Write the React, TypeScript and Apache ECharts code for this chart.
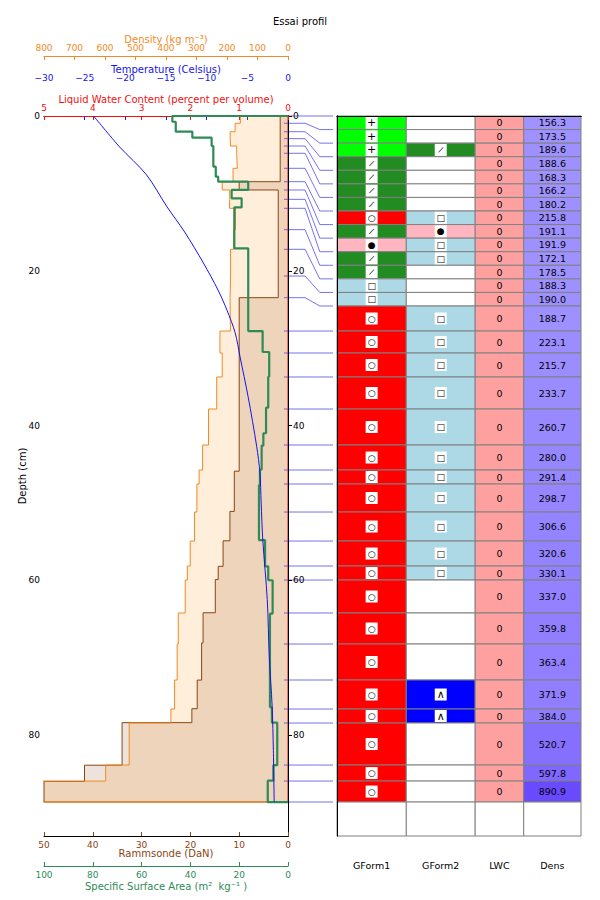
import React, { useEffect, useRef } from 'react';
import * as echarts from 'echarts';

const FONT = 'DejaVu Sans';

// ---------- DATA ----------
// Snow layer boundaries (depth from surface, cm), top to bottom
const layerDepths = [0, 0.94, 2.03, 2.93, 3.88, 4.82, 6.76, 8.49, 9.56, 10.77, 11.93, 14.69, 17.23, 20.68, 23.48,
  27.79, 30.63, 33.73, 37.87, 42.52, 45.75, 47.56, 51.18, 54.93, 58.16, 59.97, 64.23, 68.24, 72.89, 76.64, 78.45,
  83.88, 85.95, 88.66];

// Primary / secondary grain form per layer
const grainForm1 = ['PP', 'PP', 'PP', 'DF', 'DF', 'DF', 'DF', 'MF', 'DF', 'RG', 'DF', 'DF', 'FC', 'FC',
  'MF', 'MF', 'MF', 'MF', 'MF', 'MF', 'MF', 'MF', 'MF', 'MF', 'MF', 'MF', 'MF', 'MF', 'MF', 'MF', 'MF', 'MF', 'MF'];
const grainForm2 = ['', '', 'DF', '', '', '', '', 'FC', 'RG', 'FC', 'FC', '', '', '',
  'FC', 'FC', 'FC', 'FC', 'FC', 'FC', 'FC', 'FC', 'FC', 'FC', 'FC', '', '', '', 'DH', 'DH', '', '', ''];

// Liquid water content per layer (% vol)
const lwcValues = [0, 0, 0, 0, 0, 0, 0, 0, 0, 0, 0, 0, 0, 0, 0, 0, 0, 0, 0, 0, 0, 0, 0, 0, 0, 0, 0, 0, 0, 0, 0, 0, 0];

// Density per layer (kg m-3)
const densityValues = [156.3, 173.5, 189.6, 188.6, 168.3, 166.2, 180.2, 215.8, 191.1, 191.9, 172.1, 178.5, 188.3, 190.0,
  188.7, 223.1, 215.7, 233.7, 260.7, 280.0, 291.4, 298.7, 306.6, 320.6, 330.1, 337.0, 359.8, 363.4, 371.9, 384.0,
  520.7, 597.8, 890.9];

// Temperature profile
const tempDepths = [0, 4, 7.6, 11.7, 15, 19, 22.5, 25.1, 28, 31.1, 36.3, 42.7, 46.1, 50, 54.8, 62.5, 69.9, 76.3, 82, 88.66];
const tempValues = [-23.9, -20.7, -17.4, -14.9, -12.7, -10.4, -8.6, -7.5, -6.5, -5.9, -4.9, -3.85, -3.45, -3.3, -3.1,
  -2.55, -2.3, -1.95, -1.8, -1.7];

// Specific surface area step profile (m2 kg-1)
const ssaDepths = [0, 0.74, 2.03, 2.8, 3.88, 6.55, 7.84, 8.49, 9.56, 10.64, 11.8, 17.1, 27.8, 30.5, 33.7, 37.7, 41.0,
  42.6, 45.7, 47.7, 54.8, 58.2, 60.0, 64.3, 76.4, 78.4, 83.9, 85.9, 88.66];
const ssaValues = [47.4, 46.0, 39.2, 31.3, 30.6, 29.6, 28.6, 16.3, 23.1, 19.0, 22.0, 16.3, 10.4, 7.7, 8.1, 9.0, 10.1,
  10.8, 11.5, 11.9, 9.4, 8.1, 6.3, 7.4, 6.6, 4.4, 6.0, 8.3];

// Rammsonde step profile (DaN)
const rammDepths = [0, 8.49, 9.56, 23.48, 45.9, 51.1, 54.9, 58.2, 59.9, 64.2, 68.1, 72.9, 76.6, 78.4, 83.9, 86.0, 88.66];
const rammValues = [1.6, 10.0, 2.0, 10.0, 11.0, 11.9, 13.3, 14.3, 14.9, 17.4, 17.7, 18.6, 19.7, 34.0, 41.7, 50.0];

const tableColumns = ['GForm1', 'GForm2', 'LWC', 'Dens'];

// ---------- LAYOUT / STYLE ----------
const DEPTH_MAX = 93.05;
const MIN_ROW = 1.754; // minimum table row height in depth units
const COL_EDGES = [0, 69.4, 138.4, 187, 244.4];
const BEND1 = 0.43;
const BEND2 = 0.73;

const C_DENS = '#F08A24';
const C_TEMP = '#1515E8';
const C_LWC = '#EE1111';
const C_RAMM = '#8B4513';
const C_SSA = '#2E8B57';
const LWC_CELL = '#FFA0A0';

const grainStyles: Record<string, { color: string; symbol: string; size: number; rot: number }> = {
  PP: { color: '#00FF00', symbol: '+', size: 11, rot: 0 },
  DF: { color: '#228B22', symbol: '/', size: 8, rot: -0.45 },
  RG: { color: '#FFB6C1', symbol: '●', size: 9, rot: 0 },
  FC: { color: '#ADD8E6', symbol: '□', size: 9, rot: 0 },
  DH: { color: '#0000FF', symbol: '∧', size: 11, rot: 0 },
  MF: { color: '#FF0000', symbol: '○', size: 9, rot: 0 },
};

const densityColor = (d: number) =>
  `rgb(${Math.round(172 - 0.075 * d)}, ${Math.round(163 - 0.1 * d)}, 255)`;

const minus = (v: number) => (v < 0 ? '\u2212' + Math.abs(v) : String(v));

function stepPoints(depths: number[], values: number[]) {
  const pts: number[][] = [[0, depths[0]]];
  values.forEach((v, i) => {
    pts.push([v, depths[i]], [v, depths[i + 1]]);
  });
  pts.push([0, depths[depths.length - 1]]);
  return pts;
}

function stepLayers(depths: number[], values: number[]) {
  return values.map((v, i) => [v, depths[i], depths[i + 1]]);
}

const nRows = densityValues.length;
const tableEdges: number[] = [0];
for (let i = 0; i < nRows; i++) {
  tableEdges.push(Math.max(tableEdges[i] + MIN_ROW, layerDepths[i + 1]));
}
const connectorData = layerDepths.map((d, i) => [d, tableEdges[i]]);
const tableEdgesAll = [...tableEdges, DEPTH_MAX];

const stepFill = (color: string) => (params: any, api: any) => {
  const v = api.value(0);
  const top = api.value(1);
  const bot = api.value(2);
  const a = api.coord([0, top]);
  const b = api.coord([v, bot]);
  const cs = params.coordSys;
  let x1 = Math.min(a[0], b[0]);
  let x2 = Math.max(a[0], b[0]);
  x1 = Math.max(x1, cs.x);
  x2 = Math.min(x2, cs.x + cs.width);
  return {
    type: 'rect',
    shape: { x: x1, y: a[1], width: Math.max(0, x2 - x1), height: b[1] - a[1] },
    style: { fill: color },
  };
};

const topAxisBase = (color: string) => ({
  gridIndex: 0,
  type: 'value',
  position: 'top',
  splitLine: { show: false },
  axisLine: { show: true, lineStyle: { color, width: 1 } },
  axisTick: { show: true, inside: true, length: 4, lineStyle: { color } },
  axisLabel: { color, fontSize: 9, margin: 4, fontFamily: FONT },
  nameLocation: 'middle',
  nameMoveOverlap: false,
  nameTextStyle: { color, fontSize: 10, fontFamily: FONT },
});

export default function App() {
  const ref = useRef<HTMLDivElement>(null);

  useEffect(() => {
    if (!ref.current) return;
    const chart = echarts.init(ref.current, null, { renderer: 'svg' });

    const tableData: number[][] = [];
    for (let r = 0; r <= nRows; r++) for (let c = 0; c < 4; c++) tableData.push([c, r]);

    const option: any = {
      animation: false,
      backgroundColor: '#fff',
      textStyle: { fontFamily: FONT },
      title: {
        text: 'Essai profil',
        left: 'center',
        top: 16,
        padding: 0,
        textStyle: { fontSize: 10, fontWeight: 'normal', color: '#000', fontFamily: FONT },
      },
      grid: [
        { left: 44, top: 116, width: 244, height: 720, containLabel: false, outerBoundsMode: 'none' },
        { left: 284, top: 116, width: 49, height: 720, containLabel: false, outerBoundsMode: 'none' },
        { left: 337, top: 116, width: 244, height: 720, containLabel: false, outerBoundsMode: 'none' },
      ],
      xAxis: [
        {
          ...topAxisBase(C_LWC), min: 0, max: 5, interval: 1, inverse: true, offset: 0, z: 3,
          name: 'Liquid Water Content (percent per volume)', nameGap: 12,
        },
        {
          ...topAxisBase(C_TEMP), min: -30, max: 0, interval: 5, offset: 30,
          axisLabel: { color: C_TEMP, fontSize: 9, margin: 4, fontFamily: FONT, formatter: minus },
          name: 'Temperature (Celsius)', nameGap: 12,
        },
        {
          ...topAxisBase(C_DENS), min: 0, max: 800, interval: 100, inverse: true, offset: 60,
          name: 'Density (kg m⁻³)', nameGap: 12,
        },
        {
          ...topAxisBase(C_RAMM), position: 'bottom', min: 0, max: 50, interval: 10, inverse: true, offset: 0, z: 3,
          axisLine: { show: true, lineStyle: { color: '#000', width: 1 } },
          name: 'Rammsonde (DaN)', nameGap: 12,
        },
        {
          ...topAxisBase(C_SSA), position: 'bottom', min: 0, max: 100, interval: 20, inverse: true, offset: 30,
          name: 'Specific Surface Area (m²  kg⁻¹ )', nameGap: 15,
        },
        { gridIndex: 1, type: 'value', min: 0, max: 1, show: false },
        {
          gridIndex: 2, type: 'value', min: 0, max: COL_EDGES[4], position: 'bottom', z: 5,
          splitLine: { show: false }, axisTick: { show: false }, axisLabel: { show: false },
          axisLine: { show: true, lineStyle: { color: '#000', width: 1 } },
        },
        {
          gridIndex: 2, type: 'value', min: 0, max: COL_EDGES[4], position: 'top', z: 5,
          splitLine: { show: false }, axisTick: { show: false }, axisLabel: { show: false },
          axisLine: { show: true, lineStyle: { color: '#000', width: 1 } },
        },
      ],
      yAxis: [
        {
          gridIndex: 0, type: 'value', min: 0, max: DEPTH_MAX, interval: 20, inverse: true, position: 'left', z: 3,
          splitLine: { show: false },
          axisLine: { show: true, lineStyle: { color: '#000', width: 1 } },
          axisTick: { show: true, inside: true, length: 4, lineStyle: { color: '#000' } },
          axisLabel: { color: '#000', fontSize: 9, margin: 4, fontFamily: FONT, showMaxLabel: false },
          name: 'Depth (cm)', nameLocation: 'middle', nameGap: 17, nameRotate: 90, nameMoveOverlap: false,
          nameTextStyle: { color: '#000', fontSize: 10, fontFamily: FONT },
        },
        {
          gridIndex: 0, type: 'value', min: 0, max: DEPTH_MAX, interval: 20, inverse: true, position: 'right', z: 3,
          splitLine: { show: false },
          axisLine: { show: true, lineStyle: { color: '#000', width: 1 } },
          axisTick: { show: false },
          axisLabel: { color: '#000', fontSize: 9, margin: 5, fontFamily: FONT, showMaxLabel: false },
        },
        { gridIndex: 1, type: 'value', min: 0, max: DEPTH_MAX, inverse: true, show: false },
        {
          gridIndex: 2, type: 'value', min: 0, max: DEPTH_MAX, inverse: true, position: 'left', z: 5,
          splitLine: { show: false }, axisTick: { show: false }, axisLabel: { show: false },
          axisLine: { show: true, lineStyle: { color: '#000', width: 1 } },
        },
        {
          gridIndex: 2, type: 'value', min: 0, max: DEPTH_MAX, inverse: true, position: 'right', z: 5,
          splitLine: { show: false }, axisTick: { show: false }, axisLabel: { show: false },
          axisLine: { show: true, lineStyle: { color: '#000', width: 1 } },
        },
      ],
      series: [
        {
          type: 'custom', name: 'densFill', xAxisIndex: 2, yAxisIndex: 0, z: 1, clip: false,
          data: stepLayers(layerDepths, densityValues),
          renderItem: stepFill('rgba(255,140,0,0.15)'),
        },
        {
          type: 'custom', name: 'rammFill', xAxisIndex: 3, yAxisIndex: 0, z: 1, clip: false,
          data: stepLayers(rammDepths, rammValues),
          renderItem: stepFill('rgba(139,69,19,0.15)'),
        },
        {
          type: 'line', name: 'Rammsonde', xAxisIndex: 3, yAxisIndex: 0, z: 2,
          data: stepPoints(rammDepths, rammValues), showSymbol: false, symbol: 'none',
          lineStyle: { color: C_RAMM, width: 1 },
        },
        {
          type: 'line', name: 'Density', xAxisIndex: 2, yAxisIndex: 0, z: 2,
          data: stepPoints(layerDepths, densityValues), showSymbol: false, symbol: 'none',
          lineStyle: { color: C_DENS, width: 1 },
        },
        {
          type: 'line', name: 'LWC', xAxisIndex: 0, yAxisIndex: 0, z: 2,
          data: stepPoints(layerDepths, lwcValues), showSymbol: false, symbol: 'none',
          lineStyle: { color: C_LWC, width: 1 },
        },
        {
          type: 'line', name: 'SSA', xAxisIndex: 4, yAxisIndex: 0, z: 4,
          data: stepPoints(ssaDepths, ssaValues), showSymbol: false, symbol: 'none',
          lineStyle: { color: C_SSA, width: 2.2 },
        },
        {
          type: 'line', name: 'Temperature', xAxisIndex: 1, yAxisIndex: 0, z: 4,
          data: tempValues.map((t, i) => [t, tempDepths[i]]), showSymbol: false, symbol: 'none', smooth: 0.3,
          lineStyle: { color: C_TEMP, width: 1 },
        },
        {
          type: 'custom', name: 'connectors', xAxisIndex: 5, yAxisIndex: 2, z: 2, clip: false,
          data: connectorData,
          renderItem: (params: any, api: any) => {
            const a = api.value(0);
            const t = api.value(1);
            const pts = [api.coord([0, a]), api.coord([BEND1, a]), api.coord([BEND2, t]), api.coord([1, t])];
            return {
              type: 'polyline',
              shape: { points: pts },
              style: { stroke: 'rgba(40,40,230,0.65)', lineWidth: 1, fill: 'none' },
            };
          },
        },
        {
          type: 'custom', name: 'table', xAxisIndex: 6, yAxisIndex: 3, z: 2, clip: false,
          data: tableData,
          renderItem: (params: any, api: any) => {
            const c = api.value(0);
            const r = api.value(1);
            const p0 = api.coord([COL_EDGES[c], tableEdgesAll[r]]);
            const p1 = api.coord([COL_EDGES[c + 1], tableEdgesAll[r + 1]]);
            const x = p0[0];
            const y = p0[1];
            const w = p1[0] - p0[0];
            const h = p1[1] - p0[1];
            const cx = x + w / 2;
            const cy = y + h / 2;
            let fill = '#fff';
            let label: string | null = null;
            let sym: { color: string; symbol: string; size: number; rot: number } | null = null;
            if (r < nRows) {
              if (c < 2) {
                const code = (c === 0 ? grainForm1 : grainForm2)[r];
                if (code) {
                  sym = grainStyles[code];
                  fill = sym.color;
                }
              } else if (c === 2) {
                fill = LWC_CELL;
                label = String(lwcValues[r]);
              } else {
                fill = densityColor(densityValues[r]);
                label = densityValues[r].toFixed(1);
              }
            }
            const children: any[] = [
              { type: 'rect', shape: { x, y, width: w, height: h }, style: { fill, stroke: '#808080', lineWidth: 1 } },
            ];
            if (sym) {
              const bh = Math.min(12, h - 1.5);
              children.push({
                type: 'rect', shape: { x: cx - 6, y: cy - bh / 2, width: 12, height: bh }, style: { fill: '#fff' },
              });
              children.push({
                type: 'text',
                x: cx,
                y: cy,
                rotation: sym.rot,
                style: {
                  text: sym.symbol, x: 0, y: 0, align: 'center', verticalAlign: 'middle',
                  fontSize: sym.size, fontFamily: FONT, fill: '#000',
                },
              });
            }
            if (label !== null) {
              children.push({
                type: 'text',
                style: {
                  text: label, x: cx, y: cy, align: 'center', verticalAlign: 'middle',
                  fontSize: 9.5, fontFamily: FONT, fill: '#000',
                },
              });
            }
            return { type: 'group', children };
          },
        },
        {
          type: 'custom', name: 'tableHeader', xAxisIndex: 6, yAxisIndex: 3, z: 2, clip: false,
          data: tableColumns.map((_, i) => [i, 0]),
          renderItem: (params: any, api: any) => {
            const i = api.value(0);
            const cs = params.coordSys;
            const xa = api.coord([COL_EDGES[i], 0])[0];
            const xb = api.coord([COL_EDGES[i + 1], 0])[0];
            return {
              type: 'text',
              style: {
                text: tableColumns[i], x: (xa + xb) / 2, y: cs.y + cs.height + 29,
                align: 'center', verticalAlign: 'middle', fontSize: 9.5, fontFamily: FONT, fill: '#000',
              },
            };
          },
        },
      ],
    };

    chart.setOption(option);
    return () => chart.dispose();
  }, []);

  return (
    <div
      ref={ref}
      style={{ position: 'fixed', left: 0, top: 0, width: 600, height: 900, background: '#fff' }}
    />
  );
}
